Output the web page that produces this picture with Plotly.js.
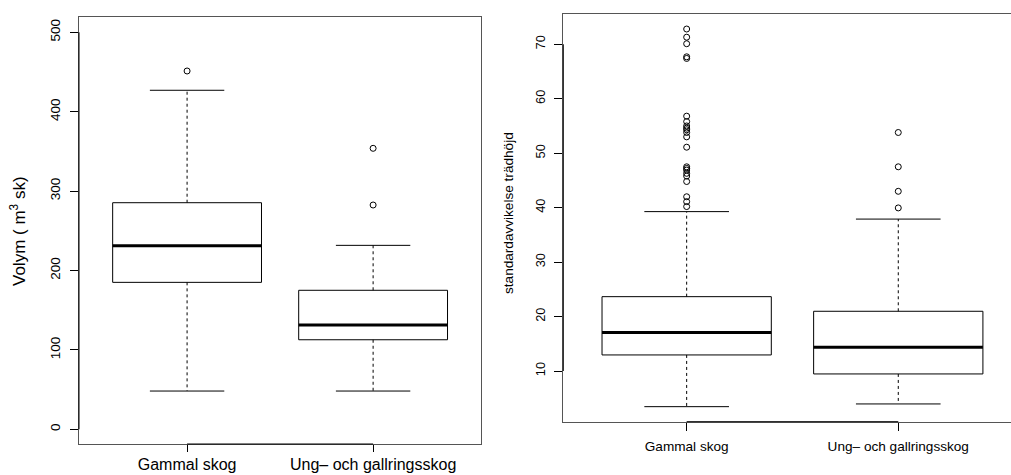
<!DOCTYPE html>
<html>
<head>
<meta charset="utf-8">
<script src="https://cdn.plot.ly/plotly-3.0.1.min.js"></script>
<style>
  html, body { margin: 0; padding: 0; background: #fff; overflow: hidden; }
  #chart { width: 1022px; height: 475px; }
</style>
</head>
<body>
<div id="chart"></div>
<script>
// ---------- data ----------
const categories = ['Gammal skog', 'Ung\u2013 och gallringsskog'];
const groupPos = [1, 2];

// Left panel: Volym (m3 sk)
const volQ1 = [185.1, 112.8];
const volMedian = [231.2, 131.4];
const volQ3 = [285.4, 175.1];
const volLowerWhisker = [48.2, 48.2];
const volUpperWhisker = [427.0, 231.7];
const volOutliersGammal = [451.3];
const volOutliersUng = [353.9, 282.5];
const volTicks = [0, 100, 200, 300, 400, 500];

// Right panel: standardavvikelse trädhöjd
const sdQ1 = [12.95, 9.46];
const sdMedian = [17.05, 14.36];
const sdQ3 = [23.65, 20.97];
const sdLowerWhisker = [3.45, 3.95];
const sdUpperWhisker = [39.27, 37.9];
const sdOutliersGammal = [72.8, 71.3, 70.1, 67.7, 67.4, 56.8, 55.8, 55.0, 54.6, 54.3, 53.8, 53.0, 51.1,
                          47.5, 47.2, 46.9, 46.3, 45.8, 44.8, 42.0, 41.1, 40.2];
const sdOutliersUng = [53.8, 47.5, 43.0, 39.95];
const sdTicks = [10, 20, 30, 40, 50, 60, 70];

// ---------- helpers ----------
const HALF_BOX = 0.4, HALF_STAPLE = 0.2;

function boxTraces(q1, med, q3, lo, hi, outlierSets, xa, ya) {
  const traces = [];
  for (let i = 0; i < q1.length; i++) {
    const c = groupPos[i];
    // dashed whiskers
    traces.push({type: 'scatter', mode: 'lines', xaxis: xa, yaxis: ya,
      x: [c, c, null, c, c], y: [q3[i], hi[i], null, q1[i], lo[i]],
      line: {color: '#000', width: 1, dash: '3px,3px'}, hoverinfo: 'skip'});
    // box
    traces.push({type: 'scatter', mode: 'lines', xaxis: xa, yaxis: ya,
      x: [c - HALF_BOX, c + HALF_BOX, c + HALF_BOX, c - HALF_BOX, c - HALF_BOX],
      y: [q1[i], q1[i], q3[i], q3[i], q1[i]],
      line: {color: '#000', width: 1}, hoverinfo: 'skip'});
    // median
    traces.push({type: 'scatter', mode: 'lines', xaxis: xa, yaxis: ya,
      x: [c - HALF_BOX, c + HALF_BOX], y: [med[i], med[i]],
      line: {color: '#000', width: 3}, hoverinfo: 'skip'});
    // staples
    traces.push({type: 'scatter', mode: 'lines', xaxis: xa, yaxis: ya,
      x: [c - HALF_STAPLE, c + HALF_STAPLE, null, c - HALF_STAPLE, c + HALF_STAPLE],
      y: [lo[i], lo[i], null, hi[i], hi[i]],
      line: {color: '#000', width: 1}, hoverinfo: 'skip'});
    // outliers
    traces.push({type: 'scatter', mode: 'markers', xaxis: xa, yaxis: ya,
      x: outlierSets[i].map(() => c), y: outlierSets[i],
      marker: {symbol: 'circle-open', size: 6, color: '#000', line: {width: 1, color: '#000'}},
      hoverinfo: 'skip'});
  }
  return traces;
}

const data = [].concat(
  boxTraces(volQ1, volMedian, volQ3, volLowerWhisker, volUpperWhisker,
            [volOutliersGammal, volOutliersUng], 'x', 'y'),
  boxTraces(sdQ1, sdMedian, sdQ3, sdLowerWhisker, sdUpperWhisker,
            [sdOutliersGammal, sdOutliersUng], 'x2', 'y2')
);

// ---------- layout ----------
const W = 1022, H = 475;
const FONT = 'Liberation Sans, Arial, Helvetica, sans-serif';

const frame = {showline: true, mirror: true, linecolor: '#555', linewidth: 1,
               showgrid: false, zeroline: false, ticks: 'outside', tickcolor: '#000', tickwidth: 1};

const layout = {
  width: W, height: H,
  margin: {l: 0, r: 0, t: 0, b: 0},
  paper_bgcolor: '#fff', plot_bgcolor: '#fff',
  showlegend: false, hovermode: false,
  font: {family: FONT, color: '#000'},
  xaxis: Object.assign({}, frame, {
    domain: [79 / W, 481 / W], range: [0.419, 2.58], anchor: 'y',
    tickvals: groupPos, ticktext: categories, ticklen: 7,
    tickfont: {size: 16, family: FONT, color: '#000'}, ticklabelstandoff: -1
  }),
  yaxis: Object.assign({}, frame, {
    domain: [(H - 444) / H, (H - 17) / H], range: [-18.5, 519.3], anchor: 'x',
    tickvals: volTicks, ticktext: volTicks.map(String), ticklen: 8, tickangle: -90,
    tickfont: {size: 13.5, family: FONT, color: '#000'}, ticklabelstandoff: 5
  }),
  xaxis2: Object.assign({}, frame, {
    domain: [563.3 / W, 1021 / W], range: [0.417, 2.58], anchor: 'y2',
    tickvals: groupPos, ticktext: categories, ticklen: 8,
    tickfont: {size: 13.6, family: FONT, color: '#000'}, ticklabelstandoff: 4
  }),
  yaxis2: Object.assign({}, frame, {
    domain: [(H - 421.7) / H, (H - 14) / H], range: [0.69, 75.56], anchor: 'x2',
    tickvals: sdTicks, ticktext: sdTicks.map(String), ticklen: 8, tickangle: -90,
    tickfont: {size: 12.8, family: FONT, color: '#000'}, ticklabelstandoff: 4
  }),
  shapes: [
    // axis segments between first and last ticks (R style)
    {type: 'line', xref: 'x', yref: 'y domain', x0: groupPos[0], x1: groupPos[groupPos.length - 1], y0: 0, y1: 0, line: {color: '#000', width: 1}},
    {type: 'line', xref: 'x domain', yref: 'y', x0: 0, x1: 0, y0: volTicks[0], y1: volTicks[volTicks.length - 1], line: {color: '#000', width: 1}},
    {type: 'line', xref: 'x2', yref: 'y2 domain', x0: groupPos[0], x1: groupPos[groupPos.length - 1], y0: 0, y1: 0, line: {color: '#000', width: 1}},
    {type: 'line', xref: 'x2 domain', yref: 'y2', x0: 0, x1: 0, y0: sdTicks[0], y1: sdTicks[sdTicks.length - 1], line: {color: '#000', width: 1}}
  ],
  annotations: [
    {text: 'Volym ( m<sup>3</sup> sk)', xref: 'paper', yref: 'paper',
     x: 18 / W, y: (H - 231) / H, xanchor: 'center', yanchor: 'middle',
     textangle: -90, showarrow: false, font: {size: 17, family: FONT, color: '#000'}},
    {text: 'standardavvikelse trädhöjd', xref: 'paper', yref: 'paper',
     x: 508 / W, y: (H - 213) / H, xanchor: 'center', yanchor: 'middle',
     textangle: -90, showarrow: false, font: {size: 13.6, family: FONT, color: '#000'}}
  ]
};

Plotly.newPlot('chart', data, layout, {staticPlot: true, displayModeBar: false});
</script>
</body>
</html>
